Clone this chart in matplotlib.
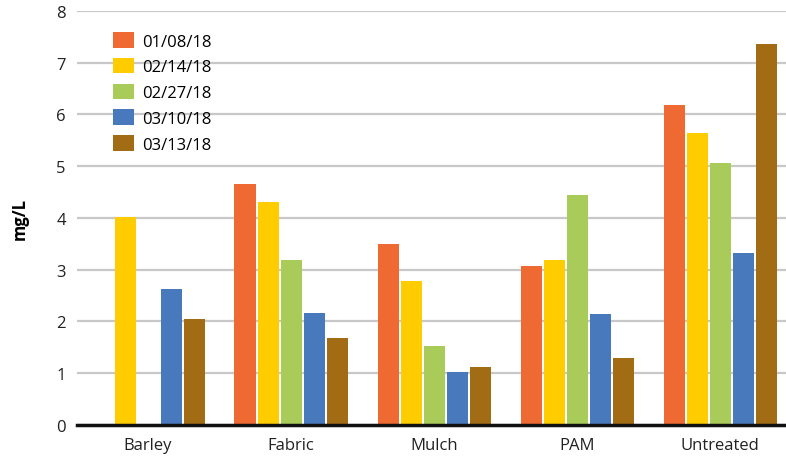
import numpy as np
import matplotlib.pyplot as plt

plt.rcParams['font.family'] = ['Open Sans', 'DejaVu Sans']

# categorias e series
treatments = ['Barley', 'Fabric', 'Mulch', 'PAM', 'Untreated']
dates = ['01/08/18', '02/14/18', '02/27/18', '03/10/18', '03/13/18']
d0108 = [0, 4.66, 3.50, 3.07, 6.18]
d0214 = [4.02, 4.31, 2.78, 3.19, 5.64]
d0227 = [0, 3.19, 1.53, 4.44, 5.06]
d0310 = [2.62, 2.16, 1.02, 2.14, 3.32]
d0313 = [2.04, 1.68, 1.12, 1.29, 7.36]
series = [d0108, d0214, d0227, d0310, d0313]
colors = ['#EE6A32', '#FFCC00', '#A8CB5A', '#4779BC', '#A26C14']

fig = plt.figure(figsize=(7.86, 4.6), dpi=100)
ax = fig.add_axes([0.098, 0.074, 0.902, 0.9])

x = np.arange(len(treatments))
step = 0.161
w = 0.148
for i, vals in enumerate(series):
    ax.bar(x + (i - 2) * step, vals, width=w, color=colors[i], label=dates[i], zorder=3)

ax.set_xlim(-0.497, 4.46)
ax.set_ylim(0, 8)
ax.set_yticks(range(9))
ax.set_xticks(x)
ax.set_xticklabels(treatments)
ax.tick_params(axis='both', length=0, labelsize=12, colors='#222222')
ax.tick_params(axis='y', pad=8)
ax.tick_params(axis='x', pad=9)
ax.grid(axis='y', color='#c8c8c8', linewidth=1.6, zorder=0)
for s in ['top', 'right', 'left']:
    ax.spines[s].set_visible(False)
ax.spines['bottom'].set_linewidth(2.5)
ax.spines['bottom'].set_color('#111111')
ax.spines['bottom'].set_zorder(4)
ax.set_ylabel('mg/L', fontsize=12, fontweight='bold', labelpad=20)

leg = ax.legend(loc='upper left', bbox_to_anchor=(0.03, 0.985), frameon=False,
                fontsize=12, handlelength=1.25, handleheight=1.05, labelspacing=0.5,
                handletextpad=0.5)

fig.savefig('out.png', dpi=100)
